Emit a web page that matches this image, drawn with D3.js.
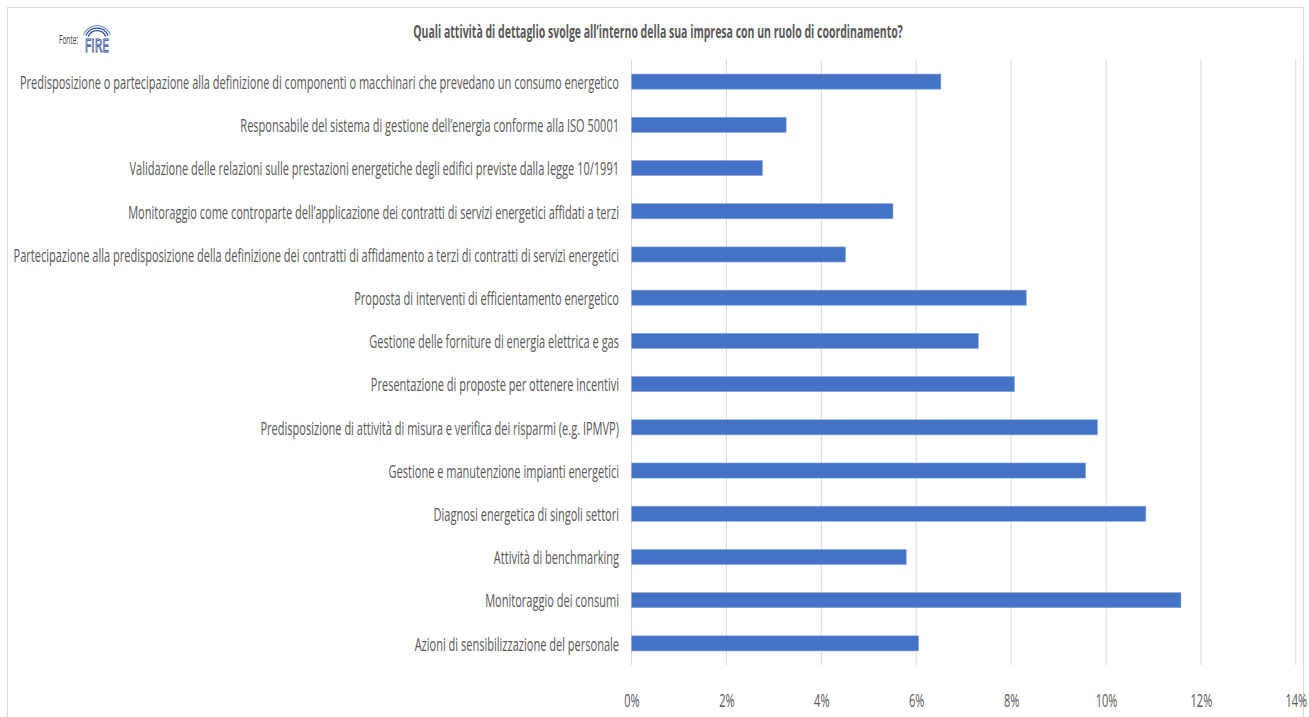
<!DOCTYPE html>
<html><head><meta charset="utf-8">
<script src="https://cdn.jsdelivr.net/npm/d3@7"></script>
<style>html,body{margin:0;padding:0;background:#fff;}svg{display:block;}</style>
</head><body>
<script>
const categories = [
  "Predisposizione o partecipazione alla definizione di componenti o macchinari che prevedano un consumo energetico",
  "Responsabile del sistema di gestione dell’energia conforme alla ISO 50001",
  "Validazione delle relazioni sulle prestazioni energetiche degli edifici previste dalla legge 10/1991",
  "Monitoraggio come controparte dell’applicazione dei contratti di servizi energetici affidati a terzi",
  "Partecipazione alla predisposizione della definizione dei contratti di affidamento a terzi di contratti di servizi energetici",
  "Proposta di interventi di efficientamento energetico",
  "Gestione delle forniture di energia elettrica e gas",
  "Presentazione di proposte per ottenere incentivi",
  "Predisposizione di attività di misura e verifica dei risparmi (e.g. IPMVP)",
  "Gestione e manutenzione impianti energetici",
  "Diagnosi energetica di singoli settori",
  "Attività di benchmarking",
  "Monitoraggio dei consumi",
  "Azioni di sensibilizzazione del personale"
];
const values = [6.52, 3.26, 2.76, 5.51, 4.51, 8.32, 7.31, 8.07, 9.82, 9.57, 10.84, 5.79, 11.58, 6.05];
const tickValues = [0, 2, 4, 6, 8, 10, 12, 14];
const tickLabels = ["0%", "2%", "4%", "6%", "8%", "10%", "12%", "14%"];
const title = "Quali attività di dettaglio svolge all’interno della sua impresa con un ruolo di coordinamento?";

const W = 1309, H = 717;
const FONT = "'Open Sans', sans-serif";
const TXT = "#595959";
const svg = d3.select("body").append("svg").attr("width", W).attr("height", H);
svg.append("rect").attr("x", 7.5).attr("y", 7.5).attr("width", 1296).attr("height", 730)
  .attr("fill", "#fff").attr("stroke", "#d9d9d9").attr("stroke-width", 1);

const x = d3.scaleLinear().domain([0, 14]).range([631.5, 1295.8]);
const y = d3.scaleBand().domain(categories).range([60, 665]).paddingInner(0.65).paddingOuter(0.325);

svg.append("g").selectAll("line").data(tickValues).join("line")
  .attr("x1", d => x(d)).attr("x2", d => x(d)).attr("y1", 60).attr("y2", 665)
  .attr("stroke", "#d9d9d9").attr("stroke-width", 1);

svg.append("g").selectAll("rect").data(values).join("rect")
  .attr("x", x(0)).attr("y", (d, i) => y(categories[i]))
  .attr("width", d => x(d) - x(0)).attr("height", y.bandwidth())
  .attr("fill", "#4472c4").attr("stroke", "#8eaadb").attr("stroke-width", 0.6);

function ctext(g, str, size, weight) {
  return g.append("text").text(str).attr("font-family", FONT).attr("font-size", size)
    .attr("font-weight", weight || 400).attr("fill", TXT);
}
const FS = 18.5;
const tmp = ctext(svg, categories[4], FS);
const natural = tmp.node().getComputedTextLength();
tmp.remove();
const k = 606 / natural;

const lg = svg.append("g");
categories.forEach(c => {
  ctext(lg, c, FS).attr("text-anchor", "end").attr("dominant-baseline", "central")
    .attr("transform", `translate(619,${y(c) + y.bandwidth() / 2}) scale(${k},1)`);
});

const axis = d3.axisBottom(x).tickValues(tickValues).tickFormat((d, i) => tickLabels[i]).tickSize(0).tickPadding(0);
const ag = svg.append("g").attr("transform", "translate(0,701)").call(axis);
ag.select(".domain").remove();
ag.selectAll("text").attr("font-family", FONT).attr("font-size", FS).attr("fill", TXT)
  .attr("y", 0).attr("dy", "0.35em")
  .attr("transform", `scale(${k},1)`);

const tt = ctext(svg, title, 17, 700);
const tw = tt.node().getComputedTextLength();
const kt = 490 / tw;
tt.attr("text-anchor", "middle").attr("dominant-baseline", "central")
  .attr("transform", `translate(658,31) scale(${kt},1)`);

ctext(svg, "Fonte:", 12).attr("text-anchor", "start").attr("dominant-baseline", "central")
  .attr("fill", "#404040")
  .attr("transform", `translate(59,40) scale(0.55,1)`);
const logo = svg.append("g").attr("transform", "translate(97,40)");
[15, 12.5, 10].forEach((r, i) => {
  logo.append("path").attr("d", d3.arc()({innerRadius: r - 1.2, outerRadius: r, startAngle: -Math.PI / 2.6, endAngle: Math.PI / 2.6}))
    .attr("fill", i === 0 ? "#6f8fcf" : "#2c4c9a");
});
logo.append("text").text("FIRE").attr("text-anchor", "middle").attr("y", 12)
  .attr("font-family", FONT).attr("font-size", 19).attr("fill", "#ffffff")
  .attr("stroke", "#2c4c9a").attr("stroke-width", 0.9)
  .attr("transform", "scale(0.65,1)");
</script>
</body></html>
